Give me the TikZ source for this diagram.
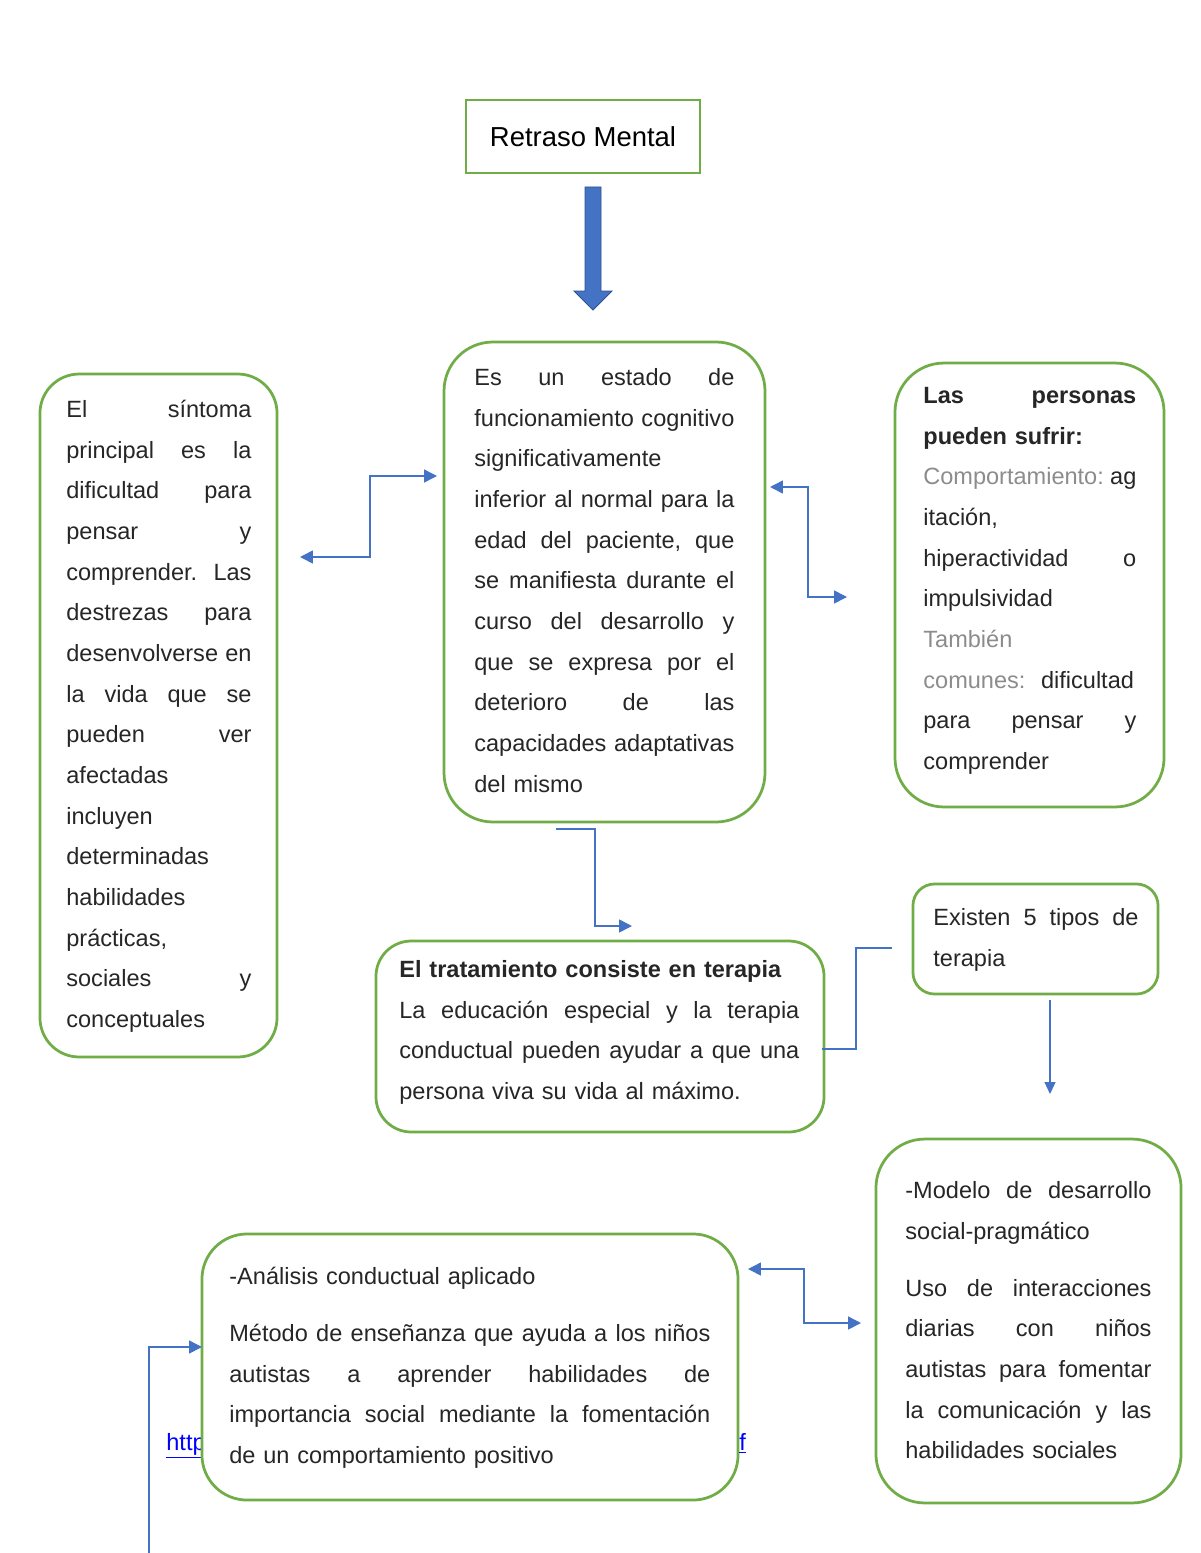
\documentclass[tikz,border=0pt]{standalone}
\usepackage{fontspec}
\setmainfont{Liberation Sans}
\usetikzlibrary{shapes,arrows.meta}
\definecolor{verde}{HTML}{70AD47}
\definecolor{azul}{HTML}{4472C4}
\definecolor{azuloscuro}{HTML}{2F528F}
\definecolor{texto}{HTML}{262626}
\definecolor{gris}{HTML}{8C8C8C}
\definecolor{enlaceweb}{HTML}{0000FF}
\newcommand{\ancho}{100pt}
\newcommand{\jl}[1]{\leavevmode\hbox to \ancho{\strut\spaceskip=\fontdimen2\font plus 1fil minus \fontdimen4\font\relax #1}\\}
\frenchspacing

\begin{document}
\begin{tikzpicture}[x=0.51pt,y=-0.51pt,
  caja/.style={draw=verde,line width=1.4pt,fill=white,inner sep=0pt},
  txt/.style={anchor=north west,inner sep=0pt,text=texto,text width=#1,
    execute at begin node={\renewcommand{\ancho}{#1}\frenchspacing},
    font=\fontsize{12}{20.75}\selectfont},
  punta/.style={-{Triangle[length=6.6pt,width=6.6pt]}},
  doble/.style={draw=azul,line width=0.8pt,{Triangle[length=6.6pt,width=6.6pt]}-{Triangle[length=6.6pt,width=6.6pt]}},
  enlace/.style={draw=azul,line width=0.8pt,punta}]
\path[use as bounding box,fill=white] (0,0) rectangle (1200,1553);

\node[anchor=base west,inner sep=0pt,text=enlaceweb,font=\fontsize{12}{14}\selectfont] (http) at (166,1450) {\underline{http}};

\node[draw=verde,line width=1.4pt,minimum width=119.3pt,minimum height=37.2pt,font=\fontsize{14}{16}\selectfont] (titulo) at (583,136.5) {Retraso Mental};
\node[caja,rounded corners=20pt,minimum width=120.9pt,minimum height=348.3pt] (sintoma) at (158.5,715.5) {};
\node[caja,rounded corners=25pt,minimum width=163.7pt,minimum height=244.8pt] (estado) at (604.5,582) {};
\node[caja,rounded corners=25pt,minimum width=137.2pt,minimum height=226.4pt] (sufrir) at (1029.5,585) {};
\node[caja,rounded corners=18pt,minimum width=228.5pt,minimum height=97.4pt] (tratamiento) at (600,1036.5) {};
\node[caja,rounded corners=11pt,minimum width=125pt,minimum height=56.1pt] (tipos) at (1035.5,939) {};
\node[caja,rounded corners=23pt,minimum width=273.4pt,minimum height=135.7pt] (analisis) at (470,1367) {};
\node[caja,rounded corners=25pt,minimum width=155.6pt,minimum height=185.6pt] (modelo) at (1028.5,1321) {};

\node[anchor=base west,inner sep=0pt,text=enlaceweb,font=\fontsize{12}{14}\selectfont] (httpfin) at (739,1450) {\underline{f}};

\node[txt=94.4pt] (sintomaTxt) at (66,388.5) {%
\jl{El síntoma}
\jl{principal es la}
\jl{dificultad para}
\jl{pensar y}
\jl{comprender. Las}
\jl{destrezas para}
\jl{desenvolverse en}
\jl{la vida que se}
\jl{pueden ver}
afectadas\\
incluyen\\
determinadas\\
habilidades\\
prácticas,\\
\jl{sociales y}
conceptuales};

\node[txt=132.6pt] (estadoTxt) at (474,356.5) {%
\jl{Es un estado de}
\jl{funcionamiento cognitivo}
significativamente\\
\jl{inferior al normal para la}
\jl{edad del paciente, que}
\jl{se manifiesta durante el}
\jl{curso del desarrollo y}
\jl{que se expresa por el}
\jl{deterioro de las}
\jl{capacidades adaptativas}
del mismo};

\node[txt=108.6pt] (sufrirTxt) at (923,374.5) {%
\jl{\bfseries Las personas}
{\bfseries pueden sufrir:}\\
\jl{\textcolor{gris}{Comportamiento:} ag}
itación,\\
\jl{hiperactividad o}
impulsividad\\
\textcolor{gris}{También}\\
\textcolor{gris}{comunes:}\hspace{4pt} dificultad\\
\jl{para pensar y}
comprender};

\node[txt=204pt] (tratamientoTxt) at (399,948.5) {%
\strut{\bfseries El tratamiento consiste en terapia}\\
\jl{La educación especial y la terapia}
\jl{conductual pueden ayudar a que una}
persona viva su vida al máximo.};

\node[txt=104.6pt] (tiposTxt) at (933,896.5) {%
\jl{Existen 5 tipos de}
terapia};

\node[txt=245.3pt] (analisisTxt) at (229,1255.5) {%
\strut-Análisis conductual aplicado\\[8.4pt]
\jl{Método de enseñanza que ayuda a los niños}
\jl{autistas a aprender habilidades de}
\jl{importancia social mediante la fomentación}
de un comportamiento positivo};

\node[txt=125.5pt] (modeloTxt) at (905,1169.5) {%
\jl{-Modelo de desarrollo}
social-pragmático\\[8.4pt]
\jl{Uso de interacciones}
\jl{diarias con niños}
\jl{autistas para fomentar}
\jl{la comunicación y las}
habilidades sociales};

\draw[azuloscuro,fill=azul,line width=0.4pt]
  (585,187) -- (601,187) -- (601,291) -- (612,291) -- (593,310) -- (574,291) -- (585,291) -- cycle;

\coordinate (sintomaP) at (300,557);
\coordinate (estadoI) at (437,476);
\coordinate (estadoD) at (770,487);
\coordinate (sufrirI) at (847,597);
\coordinate (estadoB) at (556,829);
\coordinate (tratamientoA) at (632,926);
\coordinate (tratamientoD) at (822,1049);
\coordinate (tiposI) at (892,948);
\coordinate (tiposB) at (1050,1000);
\coordinate (modeloA) at (1050,1094);
\coordinate (analisisD) at (748,1269);
\coordinate (modeloI) at (861,1323);
\coordinate (borde) at (149,1553);
\coordinate (analisisI) at (202,1347);

\draw[doble] (sintomaP) -- ++(70,0) |- (estadoI);
\draw[doble] (estadoD) -- ++(38,0) |- (sufrirI);
\draw[enlace] (estadoB) -- ++(39,0) |- (tratamientoA);
\draw[azul,line width=0.6pt] (tratamientoD) -- ++(34,0) |- (tiposI);
\draw[azul,line width=0.6pt,-{Triangle[length=6pt,width=5.5pt]}] (tiposB) -- (modeloA);
\draw[doble] (analisisD) -- ++(56,0) |- (modeloI);
\draw[enlace] (borde) |- (analisisI);

\end{tikzpicture}
\end{document}
